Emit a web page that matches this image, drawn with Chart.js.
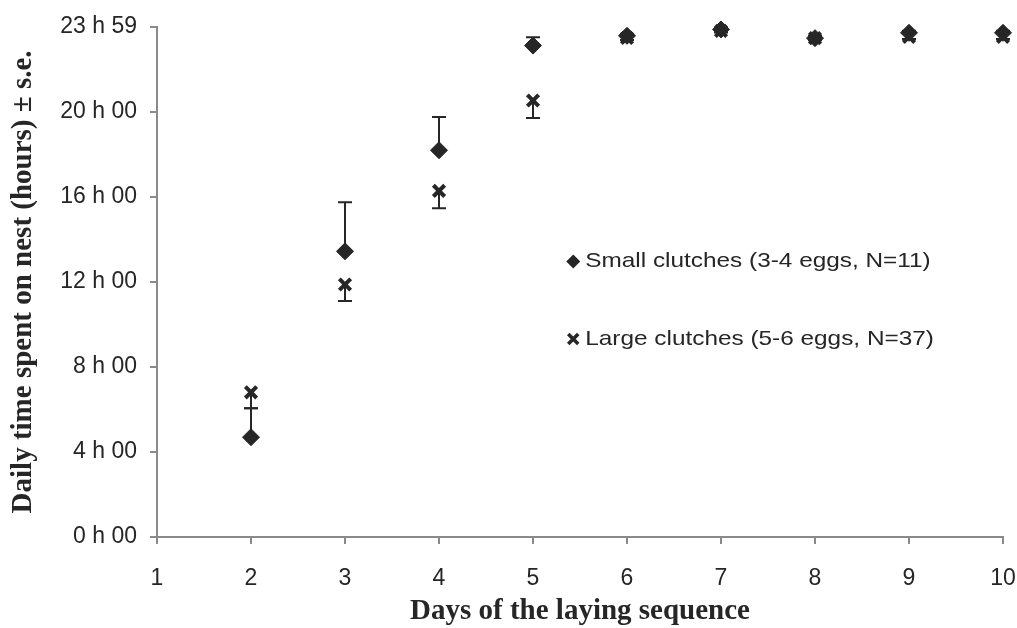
<!DOCTYPE html>
<html>
<head>
<meta charset="utf-8">
<script src="https://cdn.jsdelivr.net/npm/chart.js@4.4.1/dist/chart.umd.min.js"></script>
<style>
  html, body { margin: 0; padding: 0; background: #fff; }
  #wrap { width: 1017px; height: 628px; }
</style>
</head>
<body>
<div id="wrap"><canvas id="chart" width="1017" height="628"></canvas></div>
<script>
// values (hours)
const days = [2, 3, 4, 5, 6, 7, 8, 9, 10];
const smallMean = [4.69, 13.43, 18.18, 23.10, 23.56, 23.86, 23.45, 23.70, 23.70];
const smallSe = [1.36, 2.30, 1.56, 0.39, 0.10, 0.08, 0.10, 0.10, 0.10];
const largeMean = [6.80, 11.87, 16.27, 20.52, 23.46, 23.79, 23.45, 23.51, 23.51];
const largeSe = [0.75, 0.78, 0.82, 0.82, 0.10, 0.08, 0.10, 0.10, 0.10];

const yTickValues = [0, 4, 8, 12, 16, 20, 23.983];
const yTickLabels = ["0 h 00", "4 h 00", "8 h 00", "12 h 00", "16 h 00", "20 h 00", "23 h 59"];
const legendLabels = ["Small clutches (3-4 eggs, N=11)", "Large clutches (5-6 eggs, N=37)"];

const ink = "#262626";
const axisGrey = "#8a8a8a";

const errorBars = {
  id: "errorBars",
  beforeDatasetsDraw(chart) {
    const ctx = chart.ctx;
    const xs = chart.scales.x;
    const ys = chart.scales.y;
    ctx.save();
    ctx.strokeStyle = ink;
    ctx.lineWidth = 2;
    chart.data.datasets.forEach((ds) => {
      ds.data.forEach((pt, i) => {
        const x = xs.getPixelForValue(pt.x);
        const y0 = ys.getPixelForValue(pt.y);
        const y1 = ys.getPixelForValue(pt.y + ds.errDir * ds.errors[i]);
        ctx.beginPath();
        ctx.moveTo(x, y0);
        ctx.lineTo(x, y1);
        ctx.moveTo(x - 7, y1);
        ctx.lineTo(x + 7, y1);
        ctx.stroke();
      });
    });
    ctx.restore();
  }
};

const insideLegend = {
  id: "insideLegend",
  afterDraw(chart) {
    const ctx = chart.ctx;
    const area = chart.chartArea;
    const x = area.left + area.width * 0.492;
    const rows = [area.top + area.height * 0.46, area.top + area.height * 0.612];
    ctx.save();
    ctx.fillStyle = ink;
    ctx.strokeStyle = ink;
    // diamond
    ctx.beginPath();
    ctx.moveTo(x, rows[0] - 7);
    ctx.lineTo(x + 7, rows[0]);
    ctx.lineTo(x, rows[0] + 7);
    ctx.lineTo(x - 7, rows[0]);
    ctx.closePath();
    ctx.fill();
    // cross
    ctx.lineWidth = 3.5;
    ctx.beginPath();
    ctx.moveTo(x - 5, rows[1] - 5);
    ctx.lineTo(x + 5, rows[1] + 5);
    ctx.moveTo(x + 5, rows[1] - 5);
    ctx.lineTo(x - 5, rows[1] + 5);
    ctx.stroke();
    ctx.font = "21px 'Liberation Sans', Arial, sans-serif";
    ctx.textBaseline = "middle";
    legendLabels.forEach((label, i) => {
      ctx.save();
      ctx.translate(x + 12, rows[i]);
      ctx.scale(1.16, 1);
      ctx.fillText(label, 0, 0);
      ctx.restore();
    });
    ctx.restore();
  }
};

new Chart(document.getElementById("chart"), {
  type: "scatter",
  data: {
    datasets: [
      {
        label: legendLabels[0],
        data: days.map((d, i) => ({ x: d, y: smallMean[i] })),
        errors: smallSe,
        errDir: 1,
        pointStyle: "rectRot",
        pointRadius: 8.5,
        backgroundColor: ink,
        borderColor: ink,
        borderWidth: 1,
        clip: false
      },
      {
        label: legendLabels[1],
        data: days.map((d, i) => ({ x: d, y: largeMean[i] })),
        errors: largeSe,
        errDir: -1,
        pointStyle: "crossRot",
        pointRadius: 8,
        backgroundColor: ink,
        borderColor: ink,
        borderWidth: 4,
        clip: false
      }
    ]
  },
  options: {
    responsive: false,
    animation: false,
    events: [],
    layout: { padding: { top: 24, right: 0, bottom: 0, left: 0 } },
    plugins: {
      legend: { display: false },
      tooltip: { enabled: false }
    },
    scales: {
      x: {
        type: "linear",
        min: 1,
        max: 10,
        afterFit(scale) {
          scale.height = 91;
          scale.paddingLeft = 0;
          scale.paddingRight = 14;
        },
        border: { color: axisGrey, width: 2 },
        grid: { drawOnChartArea: false, tickLength: 7, tickColor: axisGrey, lineWidth: 2 },
        ticks: {
          stepSize: 1,
          padding: 21,
          color: ink,
          font: { family: "'Liberation Sans', Arial, sans-serif", size: 23 }
        },
        title: {
          display: true,
          text: "Days of the laying sequence",
          color: ink,
          padding: { top: 0, bottom: 2 },
          font: { family: "'Liberation Serif', 'Times New Roman', serif", size: 29, weight: "bold", lineHeight: 1 }
        }
      },
      y: {
        type: "linear",
        min: 0,
        max: yTickValues[yTickValues.length - 1],
        afterFit(scale) { scale.width = 157; },
        afterBuildTicks(scale) {
          scale.ticks = yTickValues.map((v) => ({ value: v }));
        },
        border: { color: axisGrey, width: 2 },
        grid: { drawOnChartArea: false, tickLength: 7, tickColor: axisGrey, lineWidth: 2 },
        ticks: {
          padding: 13,
          color: ink,
          font: { family: "'Liberation Sans', Arial, sans-serif", size: 23 },
          callback(value, index) { return yTickLabels[index]; }
        },
        title: {
          display: true,
          text: "Daily time spent on nest (hours) \u00b1 s.e.",
          color: ink,
          padding: { top: 9, bottom: 0 },
          font: { family: "'Liberation Serif', 'Times New Roman', serif", size: 29, weight: "bold", lineHeight: 1 }
        }
      }
    }
  },
  plugins: [errorBars, insideLegend]
});
</script>
</body>
</html>
